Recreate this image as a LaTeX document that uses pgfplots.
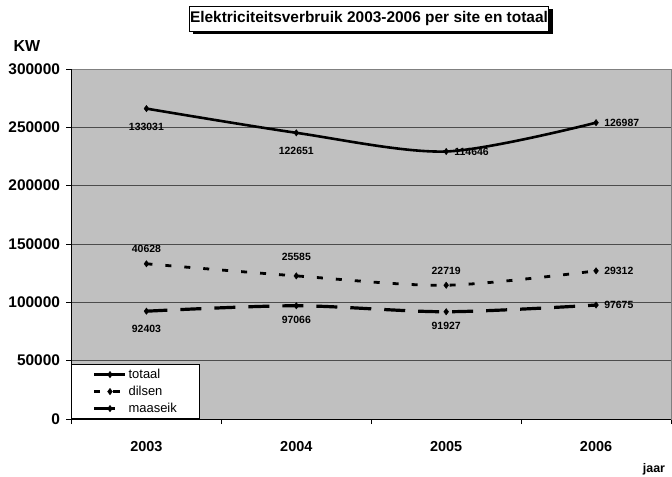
\documentclass[border=0pt]{standalone}
\usepackage{fontspec}
\setmainfont{Liberation Sans}
\usepackage{pgfplots}
\pgfplotsset{compat=1.18}
\definecolor{plotbg}{RGB}{192,192,192}
\begin{document}
\begin{tikzpicture}
\useasboundingbox (-71.5bp,-58bp) rectangle (600.5bp,419bp);
\begin{axis}[
  at={(0,0)}, anchor=south west,
  scale only axis, width=599.5bp, height=350bp,
  xmin=-0.5, xmax=3.5, ymin=0, ymax=300000,
  axis background/.style={fill=plotbg},
  axis line style={draw=gray, line width=0.8bp},
  xtick={-0.5,0.5,1.5,2.5,3.5},
  x tick label as interval,
  xticklabels={2003,2004,2005,2006,},
  ytick={0,50000,...,300000},
  scaled y ticks=false,
  ymajorgrids, grid style={black!70, line width=0.8bp},
  tick align=outside, major tick length=5bp,
  tick style={black, line width=0.8bp},
  xtick pos=bottom, ytick pos=left,
  /pgf/number format/.cd, fixed, 1000 sep={}, assume math mode=true,
  /pgfplots/.cd,
  yticklabel style={font=\fontsize{15.5}{18}\selectfont\bfseries, xshift=-3bp},
  xticklabel style={font=\fontsize{14.5}{17}\selectfont\bfseries, yshift=-14bp},
  legend style={at={(0,0)}, anchor=south west, draw=black, fill=white,
    line width=0.8bp, font=\fontsize{13}{15}\selectfont,
    inner xsep=21bp, inner ysep=2bp, row sep=1bp,
    nodes={inner sep=1.5bp, text height=10bp, text depth=3bp}},
  legend cell align=left,
  reverse legend,
  legend image code/.code={\draw[mark repeat=2,mark phase=2,#1] plot coordinates {(0bp,0bp) (15.5bp,0bp) (31bp,0bp)};},
  after end axis/.code={
    \draw[black, line width=0.8bp] (rel axis cs:0,0) -- (rel axis cs:0,1);
    \draw[black, line width=0.8bp] (rel axis cs:0,0) -- (rel axis cs:1,0);
  },
]
% maaseik
\addplot[black, line width=3.2bp, smooth, dash pattern=on 21bp off 13bp,
  mark=diamond*, mark size=3.2bp, mark options={solid, line width=0.4bp}]
  coordinates {(0,92403) (1,97066) (2,91927) (3,97675)};
\addlegendentry{maaseik}
% dilsen (cumulative)
\addplot[black, line width=2.8bp, smooth, dash pattern=on 6bp off 13bp,
  mark=diamond*, mark size=3.2bp, mark options={solid, line width=0.4bp}]
  coordinates {(0,133031) (1,122651) (2,114646) (3,126987)};
\addlegendentry{dilsen}
% totaal (cumulative)
\addplot[black, line width=2.6bp, smooth,
  mark=diamond*, mark size=3.2bp, mark options={solid, line width=0.4bp}]
  coordinates {(0,266062) (1,245302) (2,229292) (3,253974)};
\addlegendentry{totaal}

% data labels
\pgfplotsset{lbl/.style={draw=none, mark=none, forget plot, nodes near coords,
  point meta=explicit symbolic,
  every node near coord/.append style={font=\fontsize{10.5}{12}\selectfont\bfseries, inner sep=0pt, anchor=center}}}
\addplot[lbl, every node near coord/.append style={yshift=-18bp}]
  coordinates {(0,266062)[133031] (1,245302)[122651] (0,92403)[92403]};
\addplot[lbl, every node near coord/.append style={yshift=-14bp}]
  coordinates {(1,97066)[97066] (2,91927)[91927]};
\addplot[lbl, every node near coord/.append style={yshift=14.5bp}]
  coordinates {(0,133031)[40628] (2,114646)[22719]};
\addplot[lbl, every node near coord/.append style={yshift=19bp}]
  coordinates {(1,122651)[25585]};
\addplot[lbl, every node near coord/.append style={anchor=west, xshift=8bp}]
  coordinates {(2,229292)[114646] (3,253974)[126987] (3,126987)[29312] (3,97675)[97675]};
\end{axis}
% title with shadow
\fill[black] (121.5bp,384.5bp) rectangle (481.5bp,409.5bp);
\node[draw=black, fill=white, line width=0.8bp, minimum width=359bp, minimum height=25bp,
  inner sep=0pt, font=\fontsize{15.5}{18}\selectfont\bfseries] at (297.5bp,400.5bp)
  {Elektriciteitsverbruik 2003-2006 per site en totaal};
\node[font=\fontsize{16}{19}\selectfont\bfseries] at (-44.5bp,373bp) {KW};
\node[font=\fontsize{12.5}{15}\selectfont\bfseries] at (582.5bp,-50bp) {jaar};
\end{tikzpicture}
\end{document}
